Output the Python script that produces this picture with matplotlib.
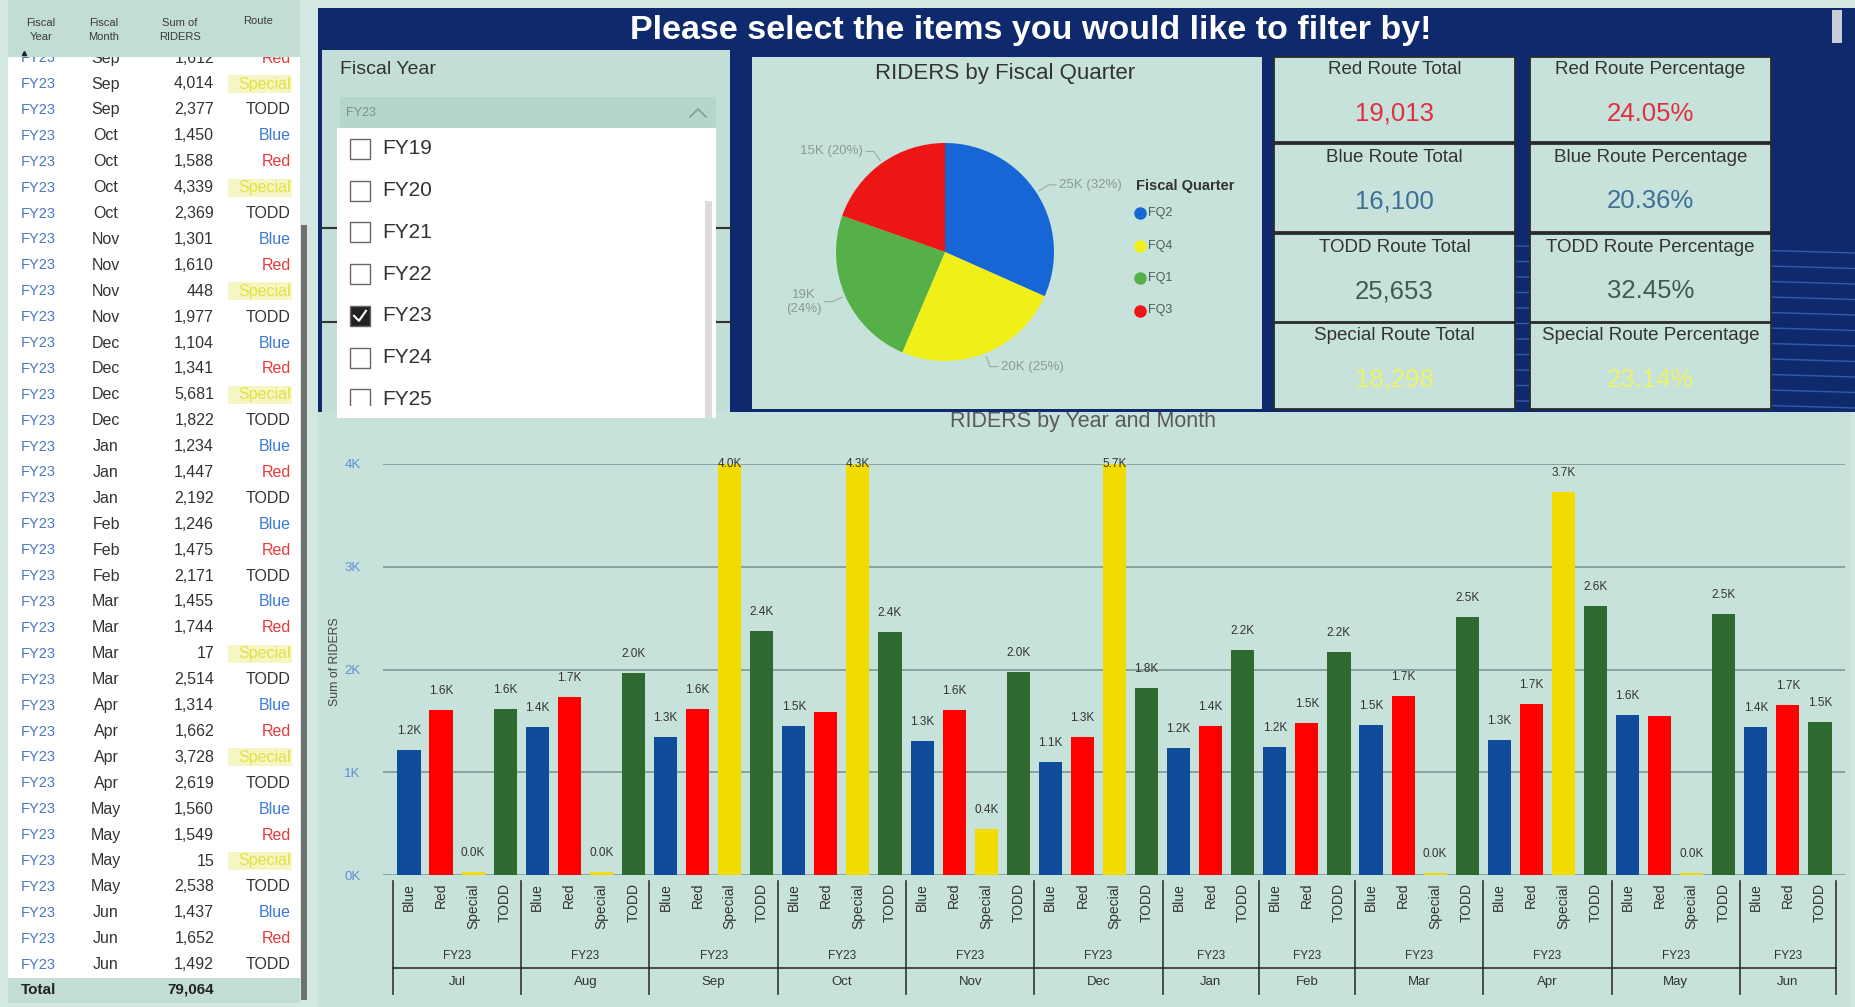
import math
import matplotlib
matplotlib.use("Agg")
import matplotlib.pyplot as plt
import matplotlib.patches as patches
import matplotlib.transforms as mtransforms
from matplotlib.lines import Line2D

plt.rcParams['font.family'] = ['Liberation Sans', 'DejaVu Sans']

# ---- data ----
fiscal_year = "FY23"
months = ["Jul", "Aug", "Sep", "Oct", "Nov", "Dec", "Jan", "Feb", "Mar", "Apr", "May", "Jun"]
quarters = ["FQ1", "FQ1", "FQ1", "FQ2", "FQ2", "FQ2", "FQ3", "FQ3", "FQ3", "FQ4", "FQ4", "FQ4"]
routes = ["Blue", "Red", "Special", "TODD"]
blue = [1216, 1437, 1346, 1450, 1301, 1104, 1234, 1246, 1455, 1314, 1560, 1437]
red = [1605, 1728, 1612, 1588, 1610, 1341, 1447, 1475, 1744, 1662, 1549, 1652]
special = [31, 25, 4014, 4339, 448, 5681, None, None, 17, 3728, 15, None]
todd = [1612, 1970, 2377, 2369, 1977, 1822, 2192, 2171, 2514, 2619, 2538, 1492]
year_options = ["FY19", "FY20", "FY21", "FY22", "FY23", "FY24", "FY25"]

series = {"Blue": blue, "Red": red, "Special": special, "TODD": todd}
route_colors = {"Blue": "#0f4c9b", "Red": "#ff0000", "Special": "#f2dc00", "TODD": "#2e6930"}
table_route_colors = {"Blue": "#3b7bd4", "Red": "#e8393b", "Special": "#e2e240", "TODD": "#333333"}
kpi_colors = {"Red": "#e0303f", "Blue": "#3f6f96", "TODD": "#3d5e52", "Special": "#eef36b"}
quarter_colors = {"FQ1": "#55b048", "FQ2": "#1666d6", "FQ3": "#ee1515", "FQ4": "#f0f018"}

NAVY = "#0e2a6c"
MINT = "#c6e2db"

W, H = 1855, 1007
fig = plt.figure(figsize=(W / 100, H / 100), dpi=100, facecolor="#d3e8e2")


def px_axes(x0, y0, x1, y1):
    return fig.add_axes([x0 / W, 1 - y1 / H, (x1 - x0) / W, (y1 - y0) / H])


bg = fig.add_axes([0, 0, 1, 1])
bg.set_xlim(0, W)
bg.set_ylim(H, 0)
bg.axis('off')
bg.set_zorder(0)


def box(x0, y0, x1, y1, fc, ec='none', lw=0, z=1):
    r = patches.Rectangle((x0, y0), x1 - x0, y1 - y0, facecolor=fc, edgecolor=ec, linewidth=lw, zorder=z)
    bg.add_patch(r)
    return r


# ---- background areas ----
box(318, 8, W, 412, NAVY, z=1)
# decorative lines on the navy background
for k in range(11):
    y0 = 246 + k * 15.5
    xs = [1515 + i * 10 for i in range(35)]
    ys = [y0 + 7 * ((x - 1515) / 340) ** 1.5 for x in xs]
    bg.plot(xs, ys, color="#3a62b8", lw=1, alpha=0.85, zorder=1.5)
box(1832, 10, 1842, 43, "#c8cdd6", z=2)
bg.text(1031, 31, "Please select the items you would like to filter by!", color="white",
        fontsize=24.5, fontweight='bold', ha='center', va='center', zorder=3)

# ---- table on the left ----
slots = []
for m_i, m in enumerate(months):
    for r in routes:
        v = series[r][m_i]
        if v is not None:
            slots.append((m_i, r, v))

box(0, 0, 310, H, "#d3e8e2", z=1)
box(8, 57, 300, 980, "white", z=2)
first = [i for i, s in enumerate(slots) if months[s[0]] == "Sep" and s[1] == "Special"][0]
row_h = 25.9
for k, i in enumerate(range(first - 1, len(slots))):
    m_i, r, v = slots[i]
    y = 84 + (k - 1) * row_h
    bg.text(21, y, fiscal_year, color="#4a78c0", fontsize=10.5, va='center', ha='left', zorder=3)
    bg.text(106, y, months[m_i], color="#333333", fontsize=11.5, va='center', ha='center', zorder=3)
    bg.text(214, y, f"{v:,}", color="#333333", fontsize=11.5, va='center', ha='right', zorder=3)
    if r == "Special":
        box(228, y - 9, 292, y + 9, "#f6f6c4", z=2.5)
    bg.text(291, y, r, color=table_route_colors[r], fontsize=11.5, va='center', ha='right', zorder=3)
box(8, 0, 300, 57, "#c2ddd5", z=4)
bg.text(41, 30, "Fiscal\nYear", fontsize=8, color="#3a3a3a", ha='center', va='center', linespacing=1.5, zorder=5)
bg.text(104, 30, "Fiscal\nMonth", fontsize=8, color="#3a3a3a", ha='center', va='center', linespacing=1.5, zorder=5)
bg.text(180, 30, "Sum of\nRIDERS", fontsize=8, color="#3a3a3a", ha='center', va='center', linespacing=1.5, zorder=5)
bg.text(258, 21, "Route", fontsize=8, color="#3a3a3a", ha='center', va='center', zorder=5)
bg.plot([24], [53], marker='^', color='#222', markersize=3, zorder=5)
box(8, 978, 300, 1003, "#c2ddd5", z=4)
grand_total = sum(s[2] for s in slots)
bg.text(21, 990, "Total", fontsize=11, fontweight='bold', color="#222", va='center', zorder=5)
bg.text(214, 990, f"{grand_total:,}", fontsize=11, fontweight='bold', color="#222", va='center', ha='right', zorder=5)
box(301, 225, 307, 1000, "#707070", z=5)

# ---- slicer ----
box(322, 50, 730, 414, "#c2ded6", z=2)
bg.text(340, 69, "Fiscal Year", fontsize=14, color="#333", va='center', zorder=3)
for yl in (228, 322):
    bg.plot([322, 338], [yl, yl], color="#333", lw=1.5, zorder=3)
    bg.plot([716, 730], [yl, yl], color="#333", lw=1.5, zorder=3)
box(340, 97, 716, 128, "#b5d6cc", z=6)
bg.text(346, 113, fiscal_year, fontsize=9, color="#7d8f8a", va='center', zorder=7)
bg.plot([690, 698, 706], [117, 109, 117], color="#8a9a96", lw=1.2, zorder=7)
box(337, 128, 716, 418, "white", z=6)
clip = patches.Rectangle((337, 128), 379, 278, transform=bg.transData)
box(705, 201, 712, 418, "#dcdcdc", z=7)
for k, yr in enumerate(year_options):
    y = 149 + 41.7 * k
    sel = yr == fiscal_year
    cb = box(350, y - 10, 370, y + 10, "#222" if sel else "white", ec="#666", lw=1, z=7)
    cb.set_clip_path(clip)
    if sel:
        bg.plot([354, 359, 366], [y, y + 5, y - 5], color="white", lw=1.5, zorder=8)
    t = bg.text(382, y, yr, fontsize=15, color="#333", va='center', zorder=8)
    t.set_clip_path(clip)

# ---- pie panel ----
box(752, 57, 1262, 409, MINT, z=2)
bg.text(1005, 74, "RIDERS by Fiscal Quarter", fontsize=16, color="#333", ha='center', va='center', zorder=3)
q_tot = {}
for q, b, rd, sp, td in zip(quarters, blue, red, special, todd):
    q_tot[q] = q_tot.get(q, 0) + b + rd + (sp or 0) + td
order = sorted(q_tot, key=lambda q: -q_tot[q])
vals = [q_tot[q] for q in order]
pax = px_axes(836, 143, 1054, 361)
pax.set_zorder(3)
wedges, _ = pax.pie(vals, colors=[quarter_colors[q] for q in order], startangle=90,
                    counterclock=False, radius=1, wedgeprops=dict(linewidth=0))
pax.set_xlim(-1, 1)
pax.set_ylim(-1, 1)
total = sum(vals)
for w, q, v in zip(wedges, order, vals):
    ang = math.radians((w.theta1 + w.theta2) / 2)
    cx, cy = math.cos(ang), math.sin(ang)
    side = 1 if cx >= 0 else -1
    lab = f"{round(v / 1000)}K ({round(100 * v / total)}%)"
    if cx < -0.85:
        lab = lab.replace(" ", "\n")
    x1, y1 = 1.03 * cx, 1.03 * cy
    x2, y2 = 1.13 * cx, 1.13 * cy
    x3 = x2 + 0.07 * side
    pax.plot([x1, x2, x3], [y1, y2, y2], color="#9aaba7", lw=0.8, clip_on=False)
    pax.text(x3 + 0.03 * side, y2, lab, fontsize=9.5, color="#8a9a96", ha='left' if side > 0 else 'right',
             va='center', clip_on=False, multialignment='center')
bg.text(1136, 186, "Fiscal Quarter", fontsize=10.5, fontweight='bold', color="#333", va='center', zorder=3)
for k, q in enumerate(order):
    y = 213 + 32.5 * k
    bg.plot([1140], [y], marker='o', markersize=8, color=quarter_colors[q], zorder=3)
    bg.text(1148, y, q, fontsize=9, color="#4d5e5a", va='center', zorder=3)

# ---- KPI cards ----
route_tot = {r: sum(v for v in series[r] if v is not None) for r in routes}
kpi_order = ["Red", "Blue", "TODD", "Special"]
cols = [(1274, 1515), (1530, 1771)]
rows = [(57, 142), (144, 232), (234, 322), (323, 409)]
for (y0, y1), r in zip(rows, kpi_order):
    for c, (x0, x1) in enumerate(cols):
        box(x0, y0, x1, y1, MINT, ec="#2b2b2b", lw=1.3, z=3)
        cxm = (x0 + x1) / 2
        if c == 0:
            title, val = f"{r} Route Total", f"{route_tot[r]:,}"
        else:
            title, val = f"{r} Route Percentage", f"{100 * route_tot[r] / grand_total:.2f}%"
        bg.text(cxm, y0 + 13, title, fontsize=13.5, color="#333", ha='center', va='center', zorder=4)
        bg.text(cxm, y0 + 57, val, fontsize=18.5, color=kpi_colors[r], ha='center', va='center', zorder=4)

# ---- bar chart ----
box(318, 412, 1851, 1007, MINT, z=2)
bg.text(1083, 422, "RIDERS by Year and Month", fontsize=15.5, color="#5a5a5a", ha='center', va='center', zorder=3)
bg.text(335, 662, "Sum of RIDERS", fontsize=8.8, color="#444", rotation=90, ha='center', va='center', zorder=3)

ax = px_axes(383, 464, 1845, 875)
ax.set_zorder(3)
ax.patch.set_alpha(0)
n = len(slots)
xs = list(range(n))
ax.bar(xs, [s[2] for s in slots], width=0.72, color=[route_colors[s[1]] for s in slots], zorder=3)
ymax = 4000
ax.set_ylim(0, ymax)
ax.set_xlim(-0.81, n - 0.5 + 0.28)
ax.set_yticks([0, 1000, 2000, 3000, 4000])
ax.set_yticklabels(["0K", "1K", "2K", "3K", "4K"])
ax.tick_params(axis='y', length=0, pad=16, labelcolor="#5e8fd6", labelsize=9.5)
ax.set_xticks([])
ax.yaxis.grid(True, color="#849f99", lw=1.3)
ax.set_axisbelow(True)
for sp in ax.spines.values():
    sp.set_visible(False)


def k_label(v):
    return f"{math.floor(v / 100 + 0.5) / 10:.1f}K"


prev_shown = False
for i, (m_i, r, v) in enumerate(slots):
    same = i > 0 and slots[i - 1][0] == m_i
    if same and prev_shown and abs(v - slots[i - 1][2]) < 150:
        prev_shown = False
        continue
    prev_shown = True
    if v >= ymax:
        ax.text(i, ymax, k_label(v), fontsize=8.5, color="#333", ha='center', va='center', zorder=5, clip_on=False)
    else:
        ax.annotate(k_label(v), (i, v), xytext=(0, 13.7), textcoords='offset points',
                    fontsize=8.5, color="#333", ha='center', va='center', zorder=5)

trans = mtransforms.blended_transform_factory(ax.transData, bg.transData)
for i, (m_i, r, v) in enumerate(slots):
    ax.text(i, 883, r, rotation=90, ha='center', va='top', transform=trans, fontsize=10,
            color="#333", clip_on=False)
bounds = []
for m_i, m in enumerate(months):
    idx = [i for i, s in enumerate(slots) if s[0] == m_i]
    lo, hi = idx[0] - 0.5, idx[-1] + 0.5
    bounds.append(lo)
    mid = (lo + hi) / 2
    ax.text(mid, 956, fiscal_year, ha='center', va='center', transform=trans, fontsize=8.5, color="#333", clip_on=False)
    ax.text(mid, 982, m, ha='center', va='center', transform=trans, fontsize=9.5, color="#333", clip_on=False)
bounds.append(n - 0.5)
for b in bounds:
    fig.add_artist(Line2D([b, b], [881, 994], transform=trans, color="#333", lw=1.2))
fig.add_artist(Line2D([bounds[0], bounds[-1]], [968, 968], transform=trans, color="#333", lw=1.2))

fig.savefig("out.png", dpi=100, facecolor=fig.get_facecolor())
